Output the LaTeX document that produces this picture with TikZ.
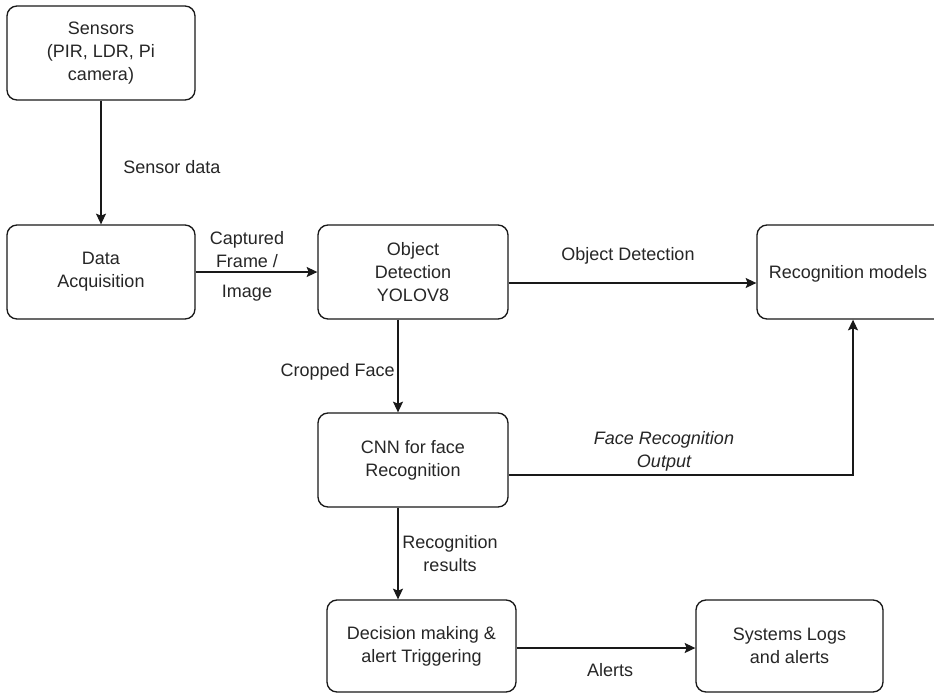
\documentclass[tikz,border=0pt]{standalone}
\usepackage{fontspec}
\setmainfont{Liberation Sans}
\usetikzlibrary{arrows.meta}
\begin{document}
\begin{tikzpicture}[x=0.75pt,y=-0.75pt,
  every node/.style={font=\fontsize{13.5}{17.25}\selectfont, text=black!85},
  block/.style={draw=black!90, rounded corners=7.5pt, line width=1pt, align=center, inner sep=0pt, fill=white},
  link/.style={draw=black!90, line width=1pt, -{Stealth[length=8pt,width=7.5pt,inset=1.5pt]}},
  lbl/.style={align=center, inner sep=0pt}]
\useasboundingbox[fill=white] (0,0) rectangle (934,694);

% processing blocks
\node[block, minimum width=141pt, minimum height=70.5pt] (sens) at (101,53) {Sensors\\(PIR, LDR, Pi\\camera)};
\node[block, minimum width=141pt, minimum height=70.5pt] (acq) at (101,272) {Data\\Acquisition};
\node[block, minimum width=142.5pt, minimum height=70.5pt] (obj) at (413,272) {Object\\Detection\\YOLOV8};
\node[block, minimum width=144pt, minimum height=70.5pt] (rec) at (853,272) {};
\node[lbl] (rectext) at (848,274) {Recognition models};
\node[block, minimum width=142.5pt, minimum height=70.5pt] (cnn) at (413,460) {CNN for face\\Recognition};
\node[block, minimum width=141.75pt, minimum height=69pt] (dec) at (421.5,646) {Decision making \&\\alert Triggering};
\node[block, minimum width=140.25pt, minimum height=69pt] (sys) at (789.5,646) {Systems Logs\\and alerts};

% connectors
\draw[link] (sens) -- (acq);
\draw[link] (acq) -- (obj);
\draw[link] ([yshift=-8.25pt]obj.east) -- ([yshift=-8.25pt]rec.west);
\draw[link] ([xshift=-11.25pt]obj.south) -- ([xshift=-11.25pt]cnn.north);
\draw[link] ([yshift=-11.25pt]cnn.east) -| (rec.south);
\draw[link] ([xshift=-11.25pt]cnn.south) -- ([xshift=-17.625pt]dec.north);
\draw[link] ([yshift=-1.5pt]dec.east) -- ([yshift=-1.5pt]sys.west);

% connector labels
\node[lbl] (l1) at (172,167) {Sensor data};
\node[lbl] (l2) at (247,249.5) {Captured\\Frame /};
\node[lbl] (l3) at (247,293) {Image};
\node[lbl] (l4) at (628,256) {Object Detection};
\node[lbl, anchor=east] (l5) at (395,372) {Cropped Face};
\node[lbl, font=\fontsize{13.5}{17.25}\selectfont\itshape] (l6) at (664,451.5) {Face Recognition\\Output};
\node[lbl] (l7) at (450,553.5) {Recognition\\results};
\node[lbl] (l8) at (610,670) {Alerts};
\end{tikzpicture}
\end{document}
